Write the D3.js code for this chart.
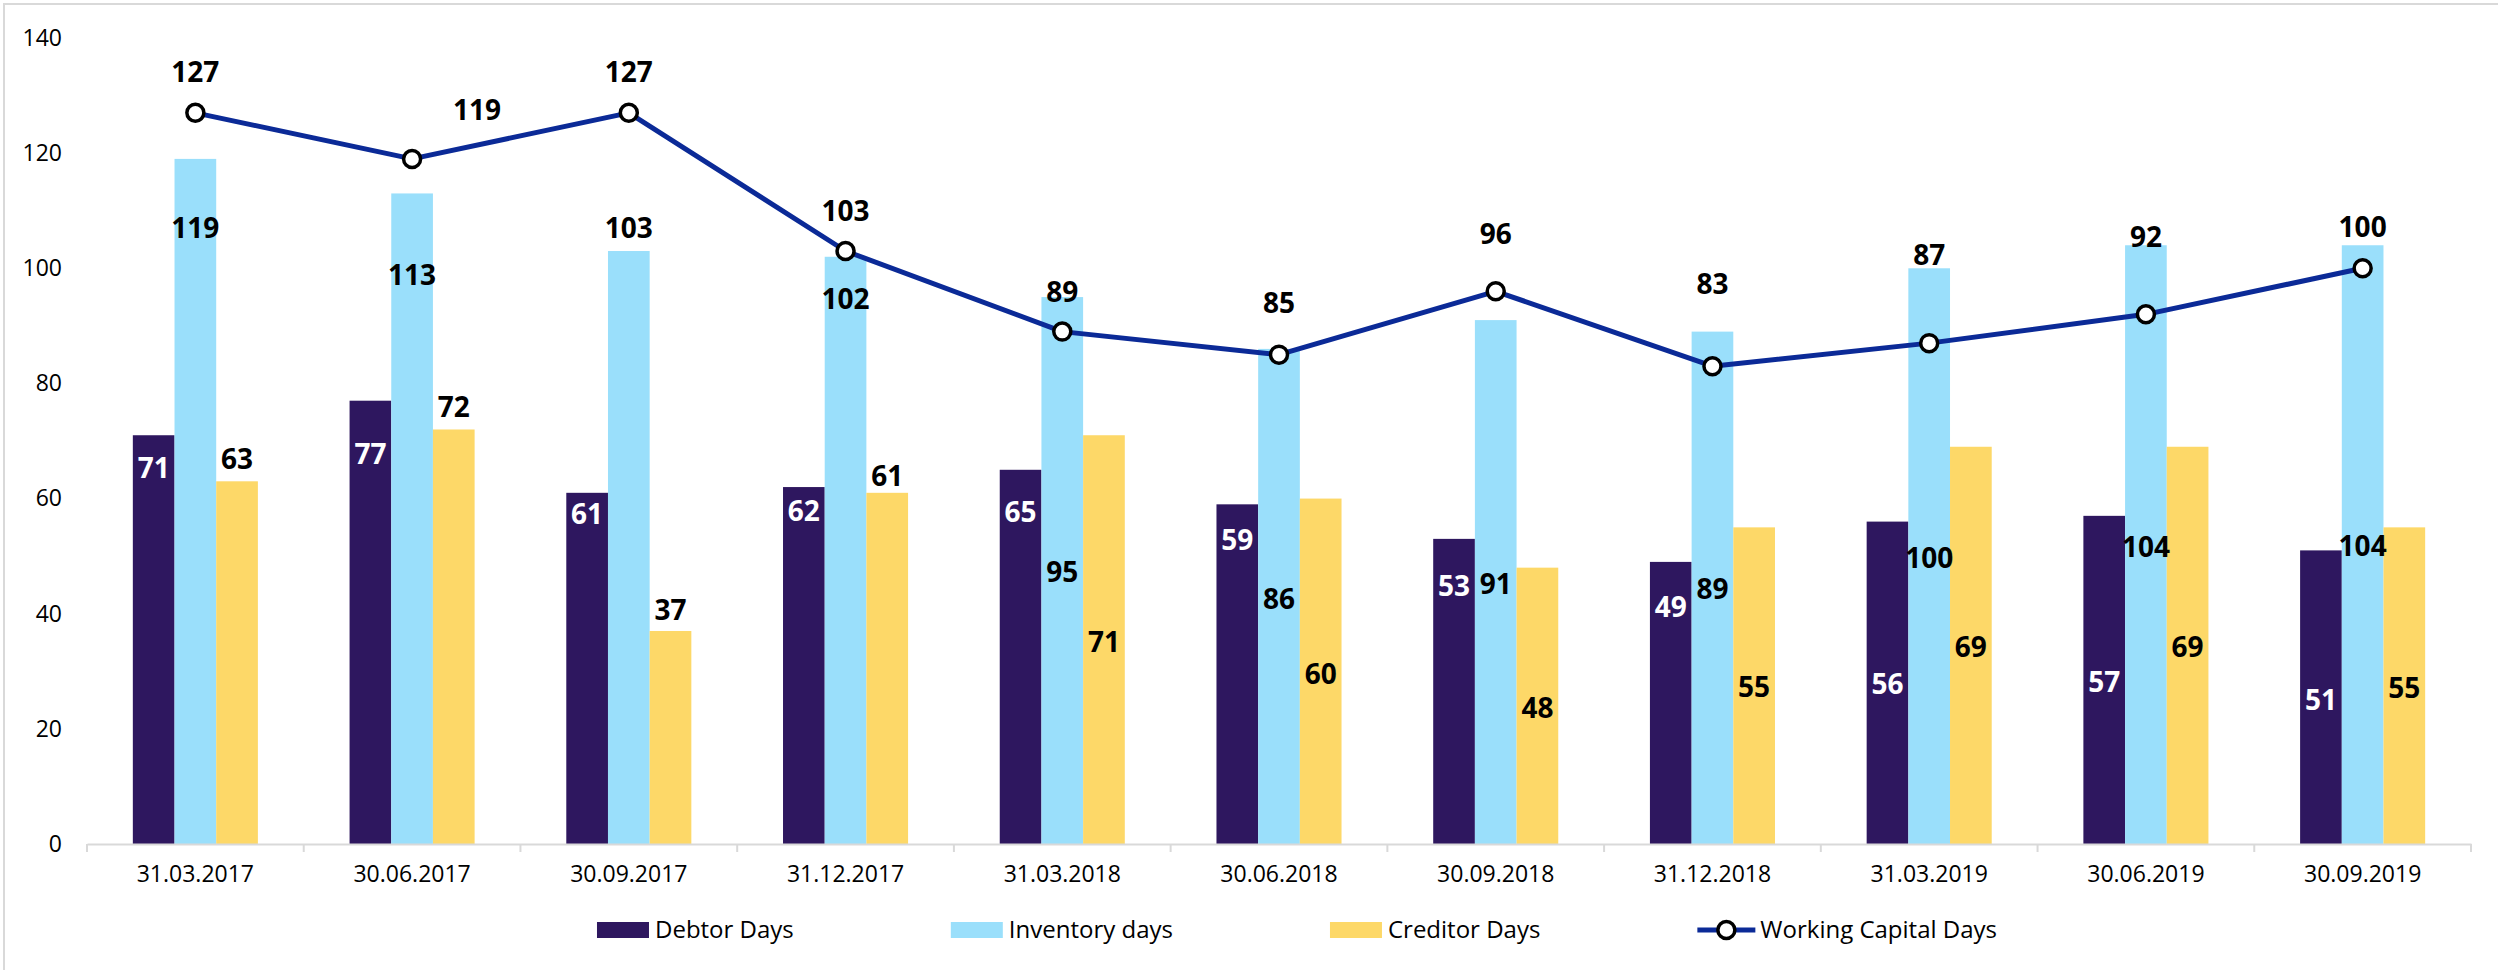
<!DOCTYPE html>
<html>
<head>
<meta charset="utf-8">
<script src="https://cdn.jsdelivr.net/npm/d3@7/dist/d3.min.js"></script>
<style>
body { margin: 0; background: #fff; }
text { font-family: "Open Sans", sans-serif; }
</style>
</head>
<body>
<script>
var categories = ["31.03.2017", "30.06.2017", "30.09.2017", "31.12.2017", "31.03.2018", "30.06.2018",
	"30.09.2018", "31.12.2018", "31.03.2019", "30.06.2019", "30.09.2019"];
var debtorDays = [71, 77, 61, 62, 65, 59, 53, 49, 56, 57, 51];
var inventoryDays = [119, 113, 103, 102, 95, 86, 91, 89, 100, 104, 104];
var creditorDays = [63, 72, 37, 61, 71, 60, 48, 55, 69, 69, 55];
var workingCapitalDays = [127, 119, 127, 103, 89, 85, 96, 83, 87, 92, 100];
var yTicks = [0, 20, 40, 60, 80, 100, 120, 140];
var seriesNames = ["Debtor Days", "Inventory days", "Creditor Days", "Working Capital Days"];

// where the data labels sit (in axis units), as placed in the original
var debtorLabelAt = [65.3, 67.7, 57.2, 57.8, 57.7, 52.8, 44.8, 41.1, 27.8, 28.1, 25.0];
var inventoryLabelAt = [107.0, 98.8, 107.0, 94.6, 47.2, 42.6, 45.2, 44.3, 49.6, 51.6, 51.8];
var creditorLabelAt = [66.9, 75.9, 40.6, 63.9, 35.1, 29.5, 23.6, 27.3, 34.2, 34.2, 27.1];
var wcLabelAt = [134.1, 127.5, 134.1, 109.9, 95.9, 94.0, 106.0, 97.2, 102.3, 105.4, 107.1];
var wcLabelDx = [0, 65, 0, 0, 0, 0, 0, 0, 0, 0, 0];

var colors = ["#2e175f", "#9adffb", "#fdd868", "#0b2a97"];

var width = 2498, height = 970;
var plot = {left: 87, right: 2471, top: 38, bottom: 844};

var svg = d3.select("body").append("svg")
	.attr("width", width)
	.attr("height", height);

svg.append("rect")
	.attr("x", 4).attr("y", 4)
	.attr("width", width + 10).attr("height", height + 10)
	.attr("fill", "#fff")
	.attr("stroke", "#d9d9d9")
	.attr("stroke-width", 2);

var x = d3.scaleBand()
	.domain(categories)
	.range([plot.left, plot.right])
	.paddingInner(0.423)
	.paddingOuter(0.2115);
var x1 = d3.scaleBand()
	.domain(seriesNames.slice(0, 3))
	.range([0, x.bandwidth()]);
var y = d3.scaleLinear()
	.domain([0, 140])
	.range([plot.bottom, plot.top]);

var barSeries = [
	{name: seriesNames[0], values: debtorDays, labelAt: debtorLabelAt, color: colors[0], textColor: "#fff"},
	{name: seriesNames[1], values: inventoryDays, labelAt: inventoryLabelAt, color: colors[1], textColor: "#000"},
	{name: seriesNames[2], values: creditorDays, labelAt: creditorLabelAt, color: colors[2], textColor: "#000"}
];

// bars
barSeries.forEach(function(s) {
	svg.append("g").selectAll("rect")
		.data(categories)
		.enter().append("rect")
		.attr("x", function(d) { return x(d) + x1(s.name); })
		.attr("width", x1.bandwidth())
		.attr("y", function(d, i) { return y(s.values[i]); })
		.attr("height", function(d, i) { return plot.bottom - y(s.values[i]); })
		.attr("fill", s.color);
});

// x axis
var xAxis = svg.append("g")
	.attr("transform", "translate(0," + plot.bottom + ")")
	.call(d3.axisBottom(x).tickSize(0).tickPadding(22));
xAxis.select(".domain").attr("stroke", "#d9d9d9").attr("stroke-width", 2);
xAxis.selectAll("text").attr("font-size", 23).attr("fill", "#000")
	.attr("font-family", "Open Sans, sans-serif");
xAxis.selectAll(".sep")
	.data(d3.range(categories.length + 1))
	.enter().append("line")
	.attr("class", "sep")
	.attr("x1", function(i) { return plot.left + i * x.step(); })
	.attr("x2", function(i) { return plot.left + i * x.step(); })
	.attr("y1", 0).attr("y2", 8)
	.attr("stroke", "#d9d9d9").attr("stroke-width", 2);

// y axis
var yAxis = svg.append("g")
	.attr("transform", "translate(" + plot.left + ",0)")
	.call(d3.axisLeft(y).tickValues(yTicks).tickSize(0).tickPadding(25));
yAxis.select(".domain").remove();
yAxis.selectAll("text").attr("font-size", 23).attr("fill", "#000")
	.attr("font-family", "Open Sans, sans-serif");

// working capital line
var cx = function(d) { return x(d) + x.bandwidth() / 2; };
var line = d3.line()
	.x(function(d, i) { return cx(categories[i]); })
	.y(function(d) { return y(d); });

svg.append("path")
	.datum(workingCapitalDays)
	.attr("d", line)
	.attr("fill", "none")
	.attr("stroke", colors[3])
	.attr("stroke-width", 5)
	.attr("stroke-linejoin", "round");

svg.append("g").selectAll("circle")
	.data(workingCapitalDays)
	.enter().append("circle")
	.attr("cx", function(d, i) { return cx(categories[i]); })
	.attr("cy", function(d) { return y(d); })
	.attr("r", 8.5)
	.attr("fill", "#fff")
	.attr("stroke", "#000")
	.attr("stroke-width", 3.5);

// data labels
barSeries.forEach(function(s) {
	svg.append("g").selectAll("text")
		.data(categories)
		.enter().append("text")
		.attr("x", function(d) { return x(d) + x1(s.name) + x1.bandwidth() / 2; })
		.attr("y", function(d, i) { return y(s.labelAt[i]); })
		.attr("dy", "0.35em")
		.attr("text-anchor", "middle")
		.attr("font-size", 28)
		.attr("font-weight", "bold")
		.attr("fill", s.textColor)
		.text(function(d, i) { return s.values[i]; });
});

svg.append("g").selectAll("text")
	.data(workingCapitalDays)
	.enter().append("text")
	.attr("x", function(d, i) { return cx(categories[i]) + wcLabelDx[i]; })
	.attr("y", function(d, i) { return y(wcLabelAt[i]); })
	.attr("dy", "0.35em")
	.attr("text-anchor", "middle")
	.attr("font-size", 28)
	.attr("font-weight", "bold")
	.attr("fill", "#000")
	.text(function(d) { return d; });

// legend
var legend = svg.append("g").attr("transform", "translate(0,930)");
var items = legend.selectAll("g")
	.data(seriesNames)
	.enter().append("g");
items.each(function(d, i) {
	var g = d3.select(this);
	if (i < 3) {
		g.append("rect")
			.attr("x", 0).attr("y", -8)
			.attr("width", 52).attr("height", 16)
			.attr("fill", colors[i]);
	} else {
		g.append("line")
			.attr("x1", 0).attr("x2", 58)
			.attr("stroke", colors[3]).attr("stroke-width", 5);
		g.append("circle")
			.attr("cx", 29).attr("r", 8.5)
			.attr("fill", "#fff").attr("stroke", "#000").attr("stroke-width", 3.5);
	}
	g.append("text")
		.attr("x", i < 3 ? 58 : 63)
		.attr("dy", "0.35em")
		.attr("font-size", 24)
		.attr("fill", "#000")
		.text(d);
});
var pos = 0, offsets = [];
items.each(function() {
	offsets.push(pos);
	pos += this.getBBox().width + 157;
});
var total = pos - 157, start = 1297 - total / 2;
items.attr("transform", function(d, i) { return "translate(" + (start + offsets[i]) + ",0)"; });
</script>
</body>
</html>
